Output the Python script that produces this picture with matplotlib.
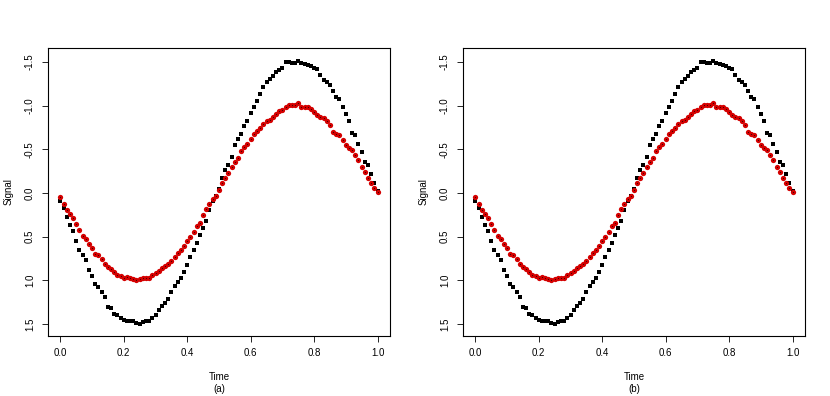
import numpy as np
import matplotlib
matplotlib.use("Agg")
import matplotlib.pyplot as plt

plt.rcParams['font.family'] = ['Liberation Sans', 'DejaVu Sans']
plt.rcParams['axes.unicode_minus'] = False

# time grid: 101 samples from 0 to 1
time = np.linspace(0, 1, 101)

# black squares
signal_a = [0.09, 0.17, 0.27, 0.37, 0.43, 0.55, 0.65, 0.71, 0.77, 0.88,
            0.95, 1.04, 1.08, 1.13, 1.19, 1.30, 1.32, 1.38, 1.40, 1.43,
            1.45, 1.46, 1.47, 1.47, 1.49, 1.50, 1.48, 1.47, 1.46, 1.43,
            1.40, 1.34, 1.29, 1.26, 1.21, 1.13, 1.06, 1.02, 0.97, 0.90,
            0.82, 0.73, 0.65, 0.57, 0.48, 0.40, 0.32, 0.20, 0.09, 0.03,
            -0.05, -0.17, -0.26, -0.32, -0.41, -0.55, -0.62, -0.68, -0.77, -0.83,
            -0.92, -0.98, -1.05, -1.13, -1.21, -1.27, -1.30, -1.34, -1.39, -1.41,
            -1.43, -1.50, -1.50, -1.49, -1.49, -1.51, -1.49, -1.48, -1.47, -1.45,
            -1.43, -1.42, -1.35, -1.29, -1.27, -1.24, -1.17, -1.10, -1.08, -0.99,
            -0.91, -0.82, -0.69, -0.66, -0.56, -0.47, -0.36, -0.32, -0.22, -0.11,
            -0.02]

# red dots
signal_b = [0.05, 0.13, 0.19, 0.24, 0.29, 0.36, 0.42, 0.49, 0.53, 0.585,
            0.63, 0.70, 0.71, 0.76, 0.81, 0.85, 0.865, 0.91, 0.94, 0.955,
            0.97, 0.965, 0.97, 0.985, 0.995, 0.99, 0.97, 0.97, 0.97, 0.94,
            0.92, 0.89, 0.86, 0.84, 0.81, 0.78, 0.73, 0.69, 0.65, 0.61,
            0.55, 0.50, 0.45, 0.38, 0.34, 0.25, 0.18, 0.13, 0.07, 0.03,
            -0.04, -0.11, -0.17, -0.23, -0.30, -0.35, -0.40, -0.48, -0.53, -0.56,
            -0.62, -0.68, -0.71, -0.75, -0.79, -0.83, -0.84, -0.87, -0.91, -0.94,
            -0.95, -0.99, -1.01, -1.01, -1.01, -1.03, -0.99, -0.98, -0.98, -0.96,
            -0.93, -0.89, -0.87, -0.855, -0.82, -0.78, -0.70, -0.68, -0.66, -0.61,
            -0.55, -0.52, -0.49, -0.435, -0.38, -0.30, -0.24, -0.17, -0.11, -0.06,
            -0.01]

xticks = [0.0, 0.2, 0.4, 0.6, 0.8, 1.0]
yticks = [-1.5, -1.0, -0.5, 0.0, 0.5, 1.0, 1.5]
panels = ['(a)', '(b)']

fig = plt.figure(figsize=(8.3, 3.96), dpi=100)
W, H = 830, 396
fs = 7

for k, tag in enumerate(panels):
    left = 47.7 + k * 415
    ax = fig.add_axes([left / W, (H - 335.7) / H, 342.5 / W, 287.4 / H])
    ax.plot(time, signal_a, 's', color='black', ms=3.4, mew=0)
    ax.plot(time, signal_b, 'o', color='#d40000', ms=3.8, mew=0)
    ax.plot(time, signal_b, '.', color='#300000', ms=1.3, mew=0)
    ax.set_xlim(-0.04, 1.04)
    ax.set_ylim(1.634, -1.657)
    ax.set_xticks(xticks)
    ax.set_xticklabels(['%.1f' % v for v in xticks])
    ax.set_yticks(yticks)
    ax.set_yticklabels(['%.1f' % v for v in yticks])
    ax.tick_params(direction='out', length=4.6, width=0.6, labelsize=fs, pad=4.5)
    ax.tick_params(axis='y', labelrotation=90)
    for lab in ax.get_yticklabels():
        lab.set_va('center')
    for s in ax.spines.values():
        s.set_linewidth(0.8)
    ax.set_ylabel('Signal', fontsize=fs)
    ax.yaxis.set_label_coords(-0.100, 0.5)
    ax.text(0.5, -0.1427, 'Time', transform=ax.transAxes, ha='center', va='center', fontsize=fs)
    ax.text(0.5, -0.184, tag, transform=ax.transAxes, ha='center', va='center', fontsize=fs)

fig.savefig('out.png', dpi=100)
